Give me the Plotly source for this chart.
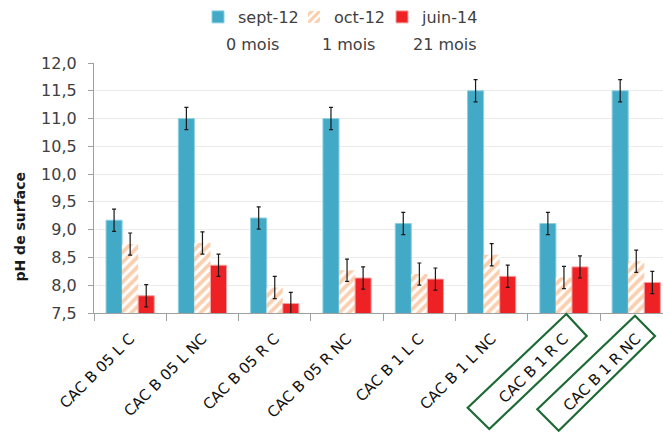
import plotly.graph_objects as go

categories = ["CAC B 05 L C", "CAC B 05 L NC", "CAC B 05 R C", "CAC B 05 R NC",
              "CAC B 1 L C", "CAC B 1 L NC", "CAC B 1 R C", "CAC B 1 R NC"]
series_names = ["sept-12", "oct-12", "juin-14"]
sept12 = [9.17, 11.0, 9.21, 11.0, 9.11, 11.5, 9.11, 11.5]
oct12 = [8.74, 8.76, 7.96, 8.27, 8.20, 8.55, 8.14, 8.43]
juin14 = [7.81, 8.36, 7.67, 8.13, 8.11, 8.16, 8.33, 8.05]
err_sept12 = [0.2] * 8
err_oct12 = [0.2] * 8
err_juin14 = [0.2] * 8
age_labels = ["0 mois", "1 mois", "21 mois"]
y_ticks = [7.5, 8.0, 8.5, 9.0, 9.5, 10.0, 10.5, 11.0, 11.5, 12.0]
y_ticktext = [f"{v:.1f}".replace(".", ",") for v in y_ticks]

W, H = 663, 434
L, R, T, B = 94, 0, 63, 121
FONT = "DejaVu Sans"

def err(vals):
    return dict(type="data", array=vals, visible=True, color="#1a1a1a",
                thickness=1.2, width=2)

fig = go.Figure()
fig.add_trace(go.Bar(name=series_names[0], x=categories, y=sept12, legend="legend",
                     marker=dict(color="#42AAC6", line=dict(color="#8CCFE0", width=1)),
                     error_y=err(err_sept12)))
fig.add_trace(go.Bar(name=series_names[1], x=categories, y=oct12, legend="legend2",
                     marker=dict(color="white", line=dict(color="rgba(0,0,0,0)", width=0),
                                 pattern=dict(shape="/", fgcolor="#F5A060", bgcolor="white",
                                              size=7, solidity=0.55)),
                     error_y=err(err_oct12)))
fig.add_trace(go.Bar(name=series_names[2], x=categories, y=juin14, legend="legend3",
                     marker=dict(color="#EE2224", line=dict(color="#F6A0A0", width=1)),
                     error_y=err(err_juin14)))

# helpers: pixel -> paper
def px(xp):
    return (xp - L) / (W - L - R)

def py(yp):
    return (H - B - yp) / (H - T - B)

# second legend line
for lab, cx in zip(age_labels, [252, 348, 445]):
    fig.add_annotation(text=lab, xref="paper", yref="paper", x=px(cx), y=py(45),
                       showarrow=False, xanchor="center", yanchor="middle",
                       font=dict(family=FONT, size=16, color="#404040"))

# y title
fig.add_annotation(text="<b>pH de surface</b>", xref="paper", yref="paper",
                   x=px(19), y=py(226.5), textangle=-90, showarrow=False,
                   xanchor="center", yanchor="middle",
                   font=dict(family=FONT, size=14, color="#1a1a1a"))

# green highlight boxes around the last two category labels
boxes = [
    [(566.3, 314), (586.7, 336), (489.3, 429), (467.7, 407.7)],
    [(635, 315.7), (655, 336), (558.7, 430.7), (537.3, 409.3)],
]
for pts in boxes:
    path = "M " + " L ".join(f"{px(a):.5f},{py(b):.5f}" for a, b in pts) + " Z"
    fig.add_shape(type="path", path=path, xref="paper", yref="paper",
                  line=dict(color="#1E6A35", width=2.2), fillcolor="rgba(0,0,0,0)",
                  layer="above")

def leg(x0):
    return dict(orientation="h", xref="container", yref="container",
                x=x0 / W, y=1.0, xanchor="left", yanchor="top",
                font=dict(family=FONT, size=16, color="#404040"),
                itemwidth=30, bgcolor="rgba(0,0,0,0)", borderwidth=0)

fig.update_layout(
    width=W, height=H,
    margin=dict(l=L, r=R, t=T, b=B, autoexpand=False),
    paper_bgcolor="white", plot_bgcolor="white",
    barmode="group", bargap=0.333, bargroupgap=0,
    font=dict(family=FONT, size=16, color="#404040"),
    showlegend=True,
    legend=leg(198), legend2=leg(294), legend3=leg(382),
    xaxis=dict(range=[-0.5, 7.37], showgrid=False, showline=True, linecolor="#A0A0A0",
               linewidth=1.2, ticks="outside", tickson="boundaries", ticklen=7,
               tickcolor="#A0A0A0", tickangle=-45, ticklabelstandoff=10,
               tickfont=dict(family=FONT, size=15, color="#111111"), zeroline=False),
    yaxis=dict(range=[7.5, 12.0], tickvals=y_ticks, ticktext=y_ticktext,
               showgrid=True, gridcolor="#ECECEC", gridwidth=1, showline=True,
               linecolor="#A0A0A0", linewidth=1.2, ticks="outside", ticklen=5,
               tickcolor="#A0A0A0", ticklabelstandoff=8,
               tickfont=dict(family=FONT, size=16, color="#404040"), zeroline=False),
)

fig.write_html("out.html", config={"displayModeBar": False},
               post_script="document.body.style.margin='0';document.body.style.overflow='hidden';")
